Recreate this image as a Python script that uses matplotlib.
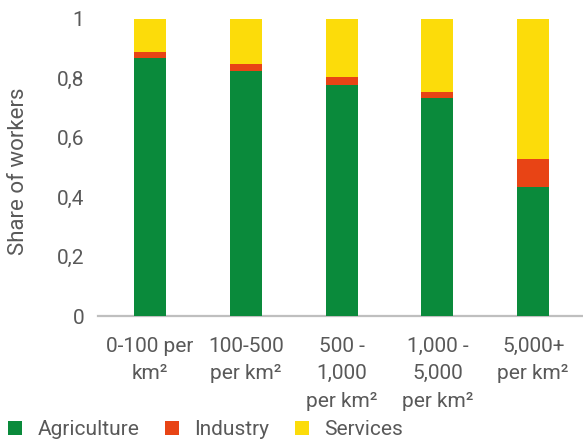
import matplotlib
matplotlib.use("Agg")
import matplotlib.pyplot as plt
from matplotlib.lines import Line2D
import numpy as np

# Population density bands and sector shares of workers
categories = ["0-100 per\nkm²", "100-500\nper km²", "500 -\n1,000\nper km²",
              "1,000 -\n5,000\nper km²", "5,000+\nper km²"]
agriculture = [0.870, 0.825, 0.778, 0.735, 0.434]
industry = [0.019, 0.023, 0.027, 0.019, 0.094]
services = [1 - a - i for a, i in zip(agriculture, industry)]

series_names = ["Agriculture", "Industry", "Services"]
colors = ["#0A8A3B", "#E84415", "#FCDC0A"]
yticks = [0, 0.2, 0.4, 0.6, 0.8, 1]
ytick_labels = ["0", "0,2", "0,4", "0,6", "0,8", "1"]

text_color = "#595959"
fs = 15
plt.rcParams["font.family"] = ["Roboto", "DejaVu Sans"]

fig = plt.figure(figsize=(5.83, 4.41), dpi=100)
ax = fig.add_axes([98 / 583, 1 - 316 / 441, 1 - 98 / 583, 297 / 441])

x = np.arange(len(categories))
width = 0.333
bottom = np.zeros(len(categories))
for vals, col in zip([agriculture, industry, services], colors):
    ax.bar(x, vals, width, bottom=bottom, color=col, linewidth=0, zorder=2)
    bottom += np.array(vals)

ax.set_xlim(-0.543, 4.52)
ax.set_ylim(0, 1)
ax.set_yticks(yticks)
ax.set_yticklabels(ytick_labels)
ax.set_xticks(x)
ax.set_xticklabels(categories, linespacing=1.57)

for s in ["top", "right", "left"]:
    ax.spines[s].set_visible(False)
ax.spines["bottom"].set_color("#BFBFBF")
ax.spines["bottom"].set_linewidth(1.6)
ax.spines["bottom"].set_zorder(1)

ax.tick_params(axis="y", length=0, pad=10, labelsize=fs, labelcolor=text_color)
ax.tick_params(axis="x", length=0, pad=15, labelsize=fs, labelcolor=text_color)

ax.set_ylabel("Share of workers", fontsize=16, color=text_color)
ax.yaxis.set_label_coords(-0.142, 0.4865)

handles = [Line2D([0], [0], marker="s", linestyle="none", markersize=10,
                  markerfacecolor=c, markeredgewidth=0) for c in colors]
fig.legend(handles, series_names, loc="center left",
           bbox_to_anchor=(0.0086, 0.025), frameon=False, ncol=3,
           fontsize=fs, handlelength=0.95, handletextpad=0.6,
           columnspacing=1.1, borderpad=0, borderaxespad=0,
           labelcolor=text_color)

fig.savefig("out.png", dpi=100)
